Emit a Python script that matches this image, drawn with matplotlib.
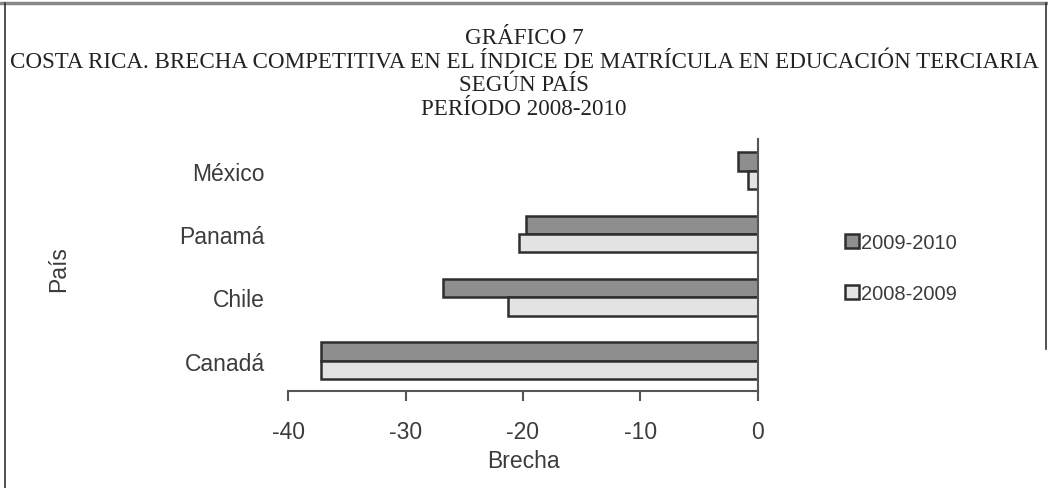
import matplotlib.pyplot as plt
import numpy as np
from matplotlib.lines import Line2D
from matplotlib.patches import Patch

# Data
paises = ["Canadá", "Chile", "Panamá", "México"]
brecha_2009_2010 = [-37.2, -26.8, -19.7, -1.7]
brecha_2008_2009 = [-37.2, -21.3, -20.3, -0.85]
series = ["2009-2010", "2008-2009"]
xticks = [-40, -30, -20, -10, 0]

titulo = ["GRÁFICO 7",
          "COSTA RICA. BRECHA COMPETITIVA EN EL ÍNDICE DE MATRÍCULA EN EDUCACIÓN TERCIARIA",
          "SEGÚN PAÍS",
          "PERÍODO 2008-2010"]

dark_fill = "#8e8e8e"
light_fill = "#e3e3e3"
edge = "#2e2e2e"
txt = "#3c3c3c"

plt.rcParams["font.family"] = ["Liberation Sans", "DejaVu Sans"]

fig = plt.figure(figsize=(10.48, 4.89), dpi=100)
ax = fig.add_axes([0.275, 0.198, 0.448, 0.516])

y = np.arange(len(paises))
h = 0.29
ax.barh(y + h / 2, brecha_2009_2010, height=h, color=dark_fill,
        edgecolor=edge, linewidth=1.8, label=series[0])
ax.barh(y - h / 2, brecha_2008_2009, height=h, color=light_fill,
        edgecolor=edge, linewidth=1.8, label=series[1])

ax.set_xlim(-40, 0)
ax.set_ylim(-0.48, 3.5)
ax.set_xticks(xticks)
ax.set_xticklabels([str(t) for t in xticks])
ax.set_yticks(y)
ax.set_yticklabels(paises)

for s in ["top", "left"]:
    ax.spines[s].set_visible(False)
ax.spines["bottom"].set_color("#555555")
ax.spines["right"].set_color("#555555")
ax.spines["bottom"].set_linewidth(1.5)
ax.spines["right"].set_linewidth(1.5)
ax.tick_params(axis="x", length=7, width=1.5, color="#555555",
               labelsize=16.5, labelcolor=txt, pad=14)
ax.tick_params(axis="y", length=0, labelsize=16.5, labelcolor=txt, pad=17)

ax.set_xlabel("Brecha", fontsize=16.5, color=txt, labelpad=4)
fig.text(0.056, 0.45, "País", rotation=90, fontsize=16.5, color=txt,
         ha="center", va="center")

handles = [Patch(facecolor=dark_fill, edgecolor=edge, linewidth=1.8),
           Patch(facecolor=light_fill, edgecolor=edge, linewidth=1.8)]
fig.legend(handles, series, loc="center left", bbox_to_anchor=(0.789, 0.45),
           frameon=False, fontsize=14.5, handlelength=0.7, handleheight=0.7,
           handletextpad=0.1, labelspacing=1.6, labelcolor=txt)

ys = [0.922, 0.873, 0.826, 0.777]
for line, yy in zip(titulo, ys):
    fig.text(0.5, yy, line, ha="center", va="center", fontsize=16.6,
             family="Liberation Serif", color="#222222")

# page frame
fig.add_artist(Line2D([0, 1], [0.992, 0.992], color="#888888", lw=2.5))
fig.add_artist(Line2D([0.005, 0.005], [0, 0.992], color="#333333", lw=1.2))
fig.add_artist(Line2D([0.998, 0.998], [0.285, 0.992], color="#333333", lw=1.2))

fig.savefig("out.png", dpi=100)
